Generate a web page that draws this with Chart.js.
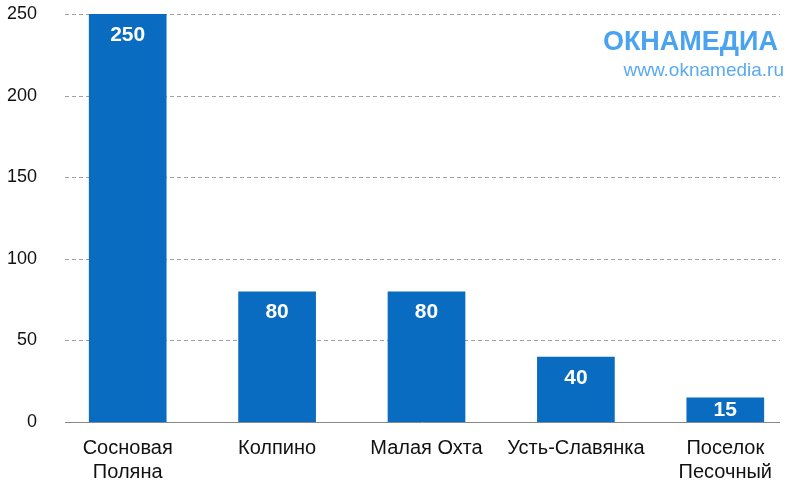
<!DOCTYPE html>
<html><head><meta charset="utf-8">
<script src="https://cdn.jsdelivr.net/npm/chart.js@4"></script>
<style>html,body{margin:0;padding:0;background:#fff}#w{position:relative;width:800px;height:487px}
#wm{position:absolute;right:16px;top:26px;text-align:right;font-family:Arial,"Liberation Sans",sans-serif;color:#5aaaf0}
#wm .a{font-size:27px;font-weight:bold;letter-spacing:0px;color:#4aa3f0;margin-right:6px}#wm .b{font-size:19px;margin-top:2px}</style>
</head><body><div id="w"><canvas id="c" width="800" height="487"></canvas>
<div id="wm"><div class="a">ОКНАМЕДИА</div><div class="b">www.oknamedia.ru</div></div></div>
<script>
const categories = [["Сосновая","Поляна"],"Колпино","Малая Охта","Усть-Славянка",["Поселок","Песочный"]];
const values = [250,80,80,40,15];
const yTicks = [0,50,100,150,200,250];
const gridPlugin = {id:'grd',beforeDatasetsDraw(ch){const ctx=ch.ctx,y=ch.scales.y;ctx.save();
ctx.strokeStyle='#a0a0a0';ctx.lineWidth=1;ctx.setLineDash([4,3]);
yTicks.forEach(v=>{if(v===0)return;const py=Math.round(y.getPixelForValue(v))+0.5;ctx.beginPath();ctx.moveTo(65,py);ctx.lineTo(780,py);ctx.stroke();});
ctx.setLineDash([]);ctx.strokeStyle='#888';const p0=Math.round(y.getPixelForValue(0))+0.5;ctx.beginPath();ctx.moveTo(65,p0);ctx.lineTo(780,p0);ctx.stroke();
ctx.fillStyle='#111';ctx.font='18px Arial, "Liberation Sans"';ctx.textAlign='right';ctx.textBaseline='middle';
yTicks.forEach(v=>ctx.fillText(String(v),37,y.getPixelForValue(v)));ctx.restore();}};
const labelPlugin = {id:'lbl',afterDatasetsDraw(ch){const ctx=ch.ctx;const meta=ch.getDatasetMeta(0);
ctx.save();ctx.fillStyle='#fff';ctx.font='bold 21px Arial, "Liberation Sans"';ctx.textAlign='center';ctx.textBaseline='middle';
meta.data.forEach((b,i)=>{const y=Math.min(b.y+21,(b.y+b.base)/2);ctx.fillText(String(values[i]),b.x,y);});ctx.restore();}};
new Chart(document.getElementById('c'),{type:'bar',
data:{labels:categories,datasets:[{data:values,backgroundColor:'#0a6cc0',categoryPercentage:1,barPercentage:0.52}]},
plugins:[gridPlugin,labelPlugin],
options:{responsive:false,animation:false,layout:{padding:{top:14,right:0,left:0,bottom:0}},
plugins:{legend:{display:false},tooltip:{enabled:false}},
scales:{x:{grid:{display:false},border:{display:false},ticks:{color:'#111',font:{size:20,family:'Arial, "Liberation Sans"'},maxRotation:0,padding:6},afterFit(s){s.height=65;}},
y:{min:0,max:250,afterBuildTicks(a){a.ticks=yTicks.map(v=>({value:v}));},border:{display:false},
grid:{display:false},afterFit(s){s.width=53;},
ticks:{display:false}}}}});
</script></body></html>
